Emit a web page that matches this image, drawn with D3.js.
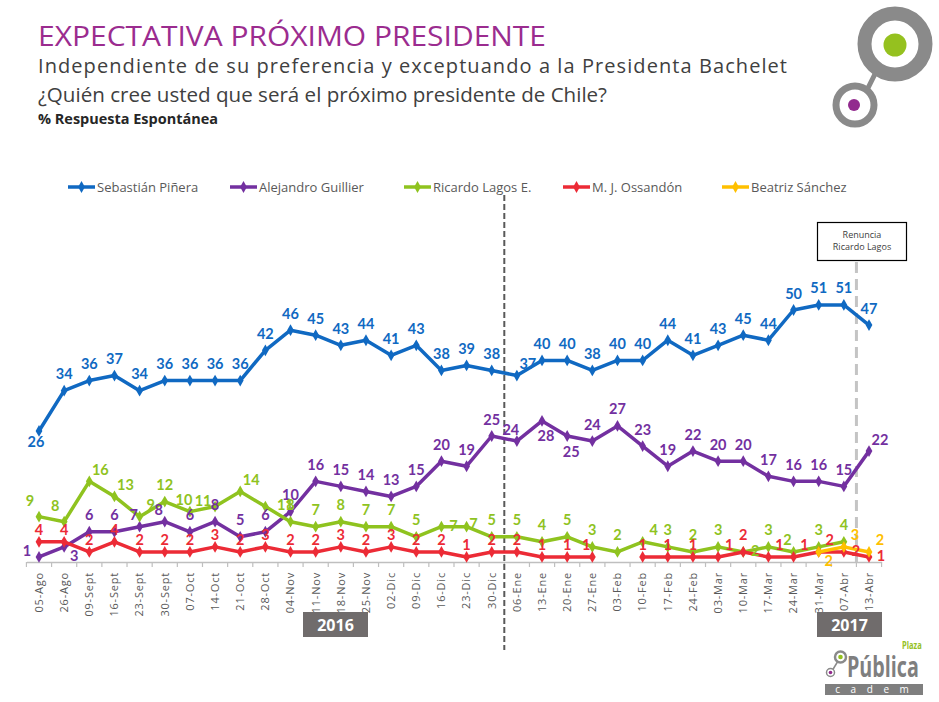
<!DOCTYPE html>
<html><head><meta charset="utf-8">
<script src="https://cdn.jsdelivr.net/npm/d3@7"></script>
<style>body{margin:0;background:#fff}svg{display:block}</style>
</head><body><svg id="c" width="939" height="702"></svg>
<script>
const categories = ["05-Ago","26-Ago","09-Sept","16-Sept","23-Sept","30-Sept","07-Oct","14-Oct","21-Oct","28-Oct","04-Nov","11-Nov","18-Nov","25-Nov","02-Dic","09-Dic","16-Dic","23-Dic","30-Dic","06-Ene","13-Ene","20-Ene","27-Ene","03-Feb","10-Feb","17-Feb","24-Feb","03-Mar","10-Mar","17-Mar","24-Mar","31-Mar","07-Abr","13-Abr"];
const pinera   = [26,34,36,37,34,36,36,36,36,42,46,45,43,44,41,43,38,39,38,37,40,40,38,40,40,44,41,43,45,44,50,51,51,47];
const guillier = [1,3,6,6,7,8,6,8,5,6,10,16,15,14,13,15,20,19,25,24,28,25,24,27,23,19,22,20,20,17,16,16,15,22];
const lagos    = [9,8,16,13,9,12,10,11,14,11,8,7,8,7,7,5,7,7,5,5,4,5,3,2,4,3,2,3,2,3,2,3,4,null];
const ossandon = [4,4,2,4,2,2,2,3,2,3,2,2,3,2,3,2,2,1,2,2,1,1,1,null,1,1,1,1,2,1,1,2,2,1];
const sanchez  = [null,null,null,null,null,null,null,null,null,null,null,null,null,null,null,null,null,null,null,null,null,null,null,null,null,null,null,null,null,null,null,2,3,2];
const seriesNames = ["Sebastián Piñera","Alejandro Guillier","Ricardo Lagos E.","M. J. Ossandón","Beatriz Sánchez"];
const yearLabels = ["2016","2017"];
const boxLines = ["Renuncia","Ricardo Lagos"];

// label placement codes (where each value label sits relative to its point), one per category
const pineraLabelPos = [
  "bl","a","a","a","a","a","a","a","a","a",      // 05-Ago .. 28-Oct
  "a","a","a","a","a","a","a","a","a","ar",      // 04-Nov .. 06-Ene
  "a","a","a","a","a","a","a","a","a","a",       // 13-Ene .. 17-Mar
  "a","a","a","a"];                              // 24-Mar .. 13-Abr
const guillierLabelPos = [
  "l","br","a","a","al","al","a","a","a","a",
  "a","a","a","a","a","a","a","a","a","al",
  "b","b","a","a","a","a","a","a","a","a",
  "a","a","a","ar"];
const lagosLabelPos = [
  "al2","al2","ar","ar","ar","a","al","l","ar","rr",
  "a","a","a","a","a","a","r","r2","a","a",
  "a","a","a","a","ar","a","a","a","r","a",
  "al","a","a","-"];
const ossandonLabelPos = [
  "n","n","n","n","n","n","n","n","n","n",
  "n","n","n","n","n","n","n","n","n","n",
  "n","n","al","-","n","n","n","ar","a","ar",
  "ar","ar","r","r"];
const sanchezLabelPos = [
  "-","-","-","-","-","-","-","-","-","-",
  "-","-","-","-","-","-","-","-","-","-",
  "-","-","-","-","-","-","-","-","-","-",
  "-","br","ar","ar"];

const seriesColors = ["#1069C2","#7330A0","#8FC31F","#EC2B36","#FFC000"];
const OFF = {a:[0,-17], n:[0,-12], al:[-6,-12], ar:[11,-12], l:[-12,-6], r:[12,-1], r2:[7,-3], rr:[20,-2], b:[4,15], bl:[-3,11], br:[10,9], al2:[-9,-16]};

const svg = d3.select("#c");
const FONT = "'Open Sans', 'DejaVu Sans', sans-serif";

// Titles
svg.append("text").attr("x",38).attr("y",46).text("EXPECTATIVA PRÓXIMO PRESIDENTE")
  .attr("font-family",FONT).attr("font-size",28).attr("fill","#9B2C8F")
  .attr("textLength",508).attr("lengthAdjust","spacingAndGlyphs");
svg.append("text").attr("x",38).attr("y",73).text("Independiente de su preferencia y exceptuando a la Presidenta Bachelet")
  .attr("font-family",FONT).attr("font-size",20).attr("fill","#404040")
  .attr("textLength",749).attr("lengthAdjust","spacing");
svg.append("text").attr("x",38).attr("y",102).text("¿Quién cree usted que será el próximo presidente de Chile?")
  .attr("font-family",FONT).attr("font-size",20).attr("fill","#404040")
  .attr("textLength",569).attr("lengthAdjust","spacingAndGlyphs");
svg.append("text").attr("x",38).attr("y",124).text("% Respuesta Espontánea")
  .attr("font-family",FONT).attr("font-size",14).attr("font-weight","bold").attr("fill","#262626")
  .attr("textLength",180).attr("lengthAdjust","spacingAndGlyphs");

// Top-right logo
const lg = svg.append("g");
lg.append("line").attr("x1",866).attr("y1",92).attr("x2",877).attr("y2",70).attr("stroke","#8A8A8A").attr("stroke-width",5);
lg.append("circle").attr("cx",895).attr("cy",44).attr("r",30.5).attr("fill","#fff").attr("stroke","#8A8A8A").attr("stroke-width",14);
lg.append("circle").attr("cx",895).attr("cy",45).attr("r",11.5).attr("fill","#95C11F");
lg.append("circle").attr("cx",855).attr("cy",105).attr("r",19).attr("fill","#fff").attr("stroke","#8A8A8A").attr("stroke-width",7);
lg.append("circle").attr("cx",854).attr("cy",105).attr("r",6).attr("fill","#922A8E");

// Scales
const x = d3.scalePoint().domain(categories).range([39, 869]);
const step = x.step();
const xBand = d3.scaleBand().domain(categories).range([39 - step/2, 869 + step/2]);
const y = d3.scaleLinear().domain([0, 60]).range([562, 259.6]);

// Legend
const legX = [68, 230, 404, 563, 722];
seriesNames.forEach((n,i)=>{
  const g = svg.append("g").attr("transform",`translate(${legX[i]},187)`);
  g.append("line").attr("x1",0).attr("x2",27).attr("stroke",seriesColors[i]).attr("stroke-width",3.5);
  g.append("path").attr("d",d3.symbol(d3.symbolDiamond,40)()).attr("transform","translate(13.5,0)").attr("fill",seriesColors[i]);
  g.append("text").attr("x",29).attr("y",4.5).text(n).attr("font-family",FONT).attr("font-size",13).attr("fill","#595959");
});

// Axis
const ax = svg.append("g").attr("transform","translate(0,562)")
  .call(d3.axisBottom(xBand).tickSize(0).tickSizeOuter(0).tickPadding(0));
ax.select(".domain").attr("stroke","#BFBFBF").attr("stroke-width",1.5);
ax.selectAll(".tick text").attr("transform","rotate(-90)").attr("text-anchor","end")
  .attr("x",-10).attr("y",0).attr("dy","0.35em")
  .attr("font-family",FONT).attr("font-size",11).attr("letter-spacing","0.8px").attr("fill","#595959");
ax.selectAll(".tickb").data(categories.concat(["_end"])).enter().append("line")
  .attr("x1",d=> d==="_end" ? xBand.range()[1] : xBand(d))
  .attr("x2",d=> d==="_end" ? xBand.range()[1] : xBand(d))
  .attr("y1",0).attr("y2",5).attr("stroke","#BFBFBF").attr("stroke-width",1.2);

// Year boxes
const yb = [[303,612],[817,612]];
yearLabels.forEach((t,i)=>{
  svg.append("rect").attr("x",yb[i][0]).attr("y",yb[i][1]).attr("width",65).attr("height",25).attr("fill","#706C6C");
  svg.append("text").attr("x",yb[i][0]+32.5).attr("y",yb[i][1]+18.5).attr("text-anchor","middle").text(t)
    .attr("font-family",FONT).attr("font-size",16).attr("font-weight","bold").attr("fill","#fff");
});

// Vertical dashed separators
const sep1 = (x("30-Dic")+x("06-Ene"))/2;
svg.append("line").attr("x1",sep1).attr("x2",sep1).attr("y1",195).attr("y2",650)
  .attr("stroke","#595959").attr("stroke-width",2).attr("stroke-dasharray","6,3");
const sep2 = (x("07-Abr")+x("13-Abr"))/2;
svg.append("line").attr("x1",sep2).attr("x2",sep2).attr("y1",262).attr("y2",565)
  .attr("stroke","#C4C4C4").attr("stroke-width",3).attr("stroke-dasharray","11,6");
svg.append("rect").attr("x",817.5).attr("y",222.5).attr("width",89).attr("height",38).attr("fill","#fff").attr("stroke","#000").attr("stroke-width",1.2);
boxLines.forEach((t,i)=>{
  svg.append("text").attr("x",862).attr("y",238+i*12).attr("text-anchor","middle").text(t)
    .attr("font-family",FONT).attr("font-size",9).attr("fill","#404040");
});

// Series
const allSeries = [pinera, guillier, lagos, ossandon, sanchez];
const allPos = [pineraLabelPos, guillierLabelPos, lagosLabelPos, ossandonLabelPos, sanchezLabelPos];
const line = d3.line().defined(d=>d.v!=null).x(d=>x(d.c)).y(d=>y(d.v));
allSeries.forEach((s,i)=>{
  const data = s.map((v,j)=>({c:categories[j], v}));
  const g = svg.append("g");
  g.append("path").datum(data).attr("d",line).attr("fill","none")
    .attr("stroke",seriesColors[i]).attr("stroke-width",3.5).attr("stroke-linejoin","round");
  g.selectAll("path.m").data(data.filter(d=>d.v!=null)).enter().append("path").attr("class","m")
    .attr("d",d3.symbol(d3.symbolDiamond,40)())
    .attr("transform",d=>`translate(${x(d.c)},${y(d.v)})`).attr("fill",seriesColors[i]);
});
allSeries.forEach((s,i)=>{
  const data = s.map((v,j)=>({c:categories[j], v, p:allPos[i][j]}));
  svg.append("g").selectAll("text").data(data.filter(d=>d.v!=null)).enter().append("text")
    .attr("x",d=>x(d.c)+(OFF[d.p]||OFF.a)[0]).attr("y",d=>y(d.v)+(OFF[d.p]||OFF.a)[1])
    .attr("text-anchor","middle").attr("dominant-baseline","central")
    .text(d=>d.v)
    .attr("font-family","Lato, 'Open Sans', sans-serif").attr("font-weight","bold").attr("font-size",14.5)
    .attr("fill",seriesColors[i]);
});

// Plaza Pública / cadem logo
const pl = svg.append("g");
pl.append("line").attr("x1",832).attr("y1",671).attr("x2",838).attr("y2",661).attr("stroke","#8A8A8A").attr("stroke-width",1.5);
pl.append("circle").attr("cx",840.5).attr("cy",657).attr("r",5.5).attr("fill","#fff").attr("stroke","#8A8A8A").attr("stroke-width",2.5);
pl.append("circle").attr("cx",840.5).attr("cy",657).attr("r",2.3).attr("fill","#95C11F");
pl.append("circle").attr("cx",830.5).attr("cy",672.5).attr("r",4).attr("fill","#fff").attr("stroke","#8A8A8A").attr("stroke-width",1.5);
pl.append("circle").attr("cx",830.5).attr("cy",672.5).attr("r",1.8).attr("fill","#922A8E");
pl.append("text").attr("transform","translate(847,677) scale(0.68,1)").text("Pública")
  .attr("font-family",FONT).attr("font-weight","bold").attr("font-size",29).attr("fill","#7F7F7F");
pl.append("text").attr("transform","translate(902,649) scale(0.75,1)").text("Plaza")
  .attr("font-family",FONT).attr("font-weight","bold").attr("font-size",10).attr("fill","#95C11F");
pl.append("rect").attr("x",825).attr("y",684).attr("width",98).attr("height",11).attr("fill","#7F7F7F");
pl.append("text").attr("x",874).attr("y",693).attr("text-anchor","middle").text("c a d e m")
  .attr("font-family",FONT).attr("font-size",10).attr("fill","#fff").attr("letter-spacing","4px");
</script></body></html>
